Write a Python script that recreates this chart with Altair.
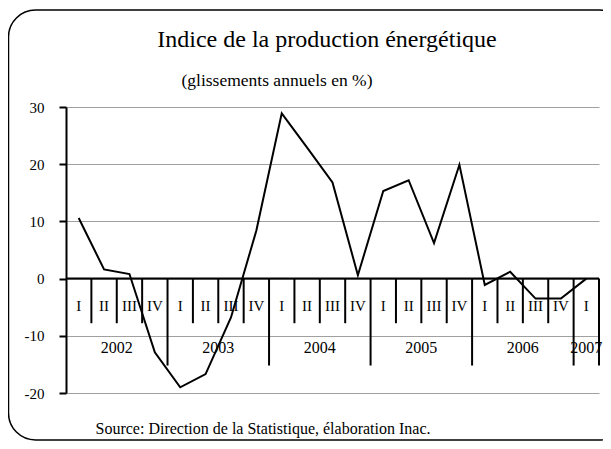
import altair as alt
import pandas as pd

# ---- data ----
quarters = ["I", "II", "III", "IV"] * 5 + ["I"]
values = [10.6, 1.6, 0.8, -12.9, -19.0, -16.7, -6.8, 8.4,
          28.9, 22.9, 16.8, 0.6, 15.3, 17.2, 6.2, 19.9,
          -1.1, 1.2, -3.5, -3.5, 0.0]
years = ["2002", "2003", "2004", "2005", "2006", "2007"]
year_quarters = [4, 4, 4, 4, 4, 1]
y_ticks = [-20, -10, 0, 10, 20, 30]

title_text = "Indice de la production énergétique"
subtitle_text = "(glissements annuels en %)"
source_text = "Source: Direction de la Statistique, élaboration Inac."

FONT = "Liberation Serif"
n = len(values)

df = pd.DataFrame({"pos": [i + 0.5 for i in range(n)], "value": values, "q": quarters})

ypos, start = [], 0
for c in year_quarters:
    ypos.append(start + c / 2)
    start += c
years_df = pd.DataFrame({"pos": ypos, "year": years})

ends, acc = set(), 0
for c in year_quarters:
    acc += c
    ends.add(acc)
bounds = pd.DataFrame({
    "k": list(range(1, n + 1)),
    "low": [-15.2 if k in ends else -7.8 for k in range(1, n + 1)],
    "zero": [0] * n,
})

xs = alt.Scale(domain=[0, n], nice=False, zero=False)
ys = alt.Scale(domain=[-20, 30], nice=False, zero=False)

line = alt.Chart(df).mark_line(color="black", strokeWidth=2).encode(
    x=alt.X("pos:Q", scale=xs, axis=None),
    y=alt.Y("value:Q", scale=ys, axis=alt.Axis(
        values=y_ticks, title=None, grid=True, gridColor="#a0a0a0", gridWidth=1,
        domainColor="black", domainWidth=2, tickColor="black", tickWidth=2,
        tickSize=7, labelPadding=15, labelFont=FONT, labelFontSize=15,
        labelColor="black", labelExpr="'' + datum.value")),
)

zero = alt.Chart(pd.DataFrame({"a": [0], "b": [n], "y": [0]})).mark_rule(
    color="black", strokeWidth=2).encode(
    x=alt.X("a:Q", scale=xs), x2="b:Q", y=alt.Y("y:Q", scale=ys))

ticks = alt.Chart(bounds).mark_rule(color="black", strokeWidth=2).encode(
    x=alt.X("k:Q", scale=xs), y=alt.Y("zero:Q", scale=ys), y2="low:Q")

qlab = alt.Chart(df).mark_text(font=FONT, fontSize=15, color="black").encode(
    x=alt.X("pos:Q", scale=xs), y=alt.value(199), text="q:N")

ylab = alt.Chart(years_df).mark_text(font=FONT, fontSize=16, color="black").encode(
    x=alt.X("pos:Q", scale=xs), y=alt.value(241), text="year:N")

title = alt.Chart(pd.DataFrame({"t": [title_text]})).mark_text(
    font=FONT, fontSize=24, color="black", baseline="alphabetic").encode(
    x=alt.value(261), y=alt.value(-60), text="t:N")
subtitle = alt.Chart(pd.DataFrame({"t": [subtitle_text]})).mark_text(
    font=FONT, fontSize=17.5, color="black", baseline="alphabetic").encode(
    x=alt.value(211), y=alt.value(-21), text="t:N")
source = alt.Chart(pd.DataFrame({"t": [source_text]})).mark_text(
    font=FONT, fontSize=16, color="black", baseline="alphabetic").encode(
    x=alt.value(197), y=alt.value(327), text="t:N")

border = alt.Chart(pd.DataFrame({"t": [0]})).mark_rect(
    fill=None, fillOpacity=0, stroke="black", strokeWidth=1.5, cornerRadius=27).encode(
    x=alt.value(-57.5), x2=alt.value(560), y=alt.value(-97), y2=alt.value(333))

chart = alt.layer(border, line, zero, ticks, qlab, ylab, title, subtitle, source).properties(
    width=533, height=286,
    autosize=alt.AutoSizeParams(type="none"),
    padding={"left": 58, "top": 99, "right": 4, "bottom": 48},
    background="white",
).configure_view(stroke=None)

chart.save("out.html", embed_options={"renderer": "svg", "actions": False})
